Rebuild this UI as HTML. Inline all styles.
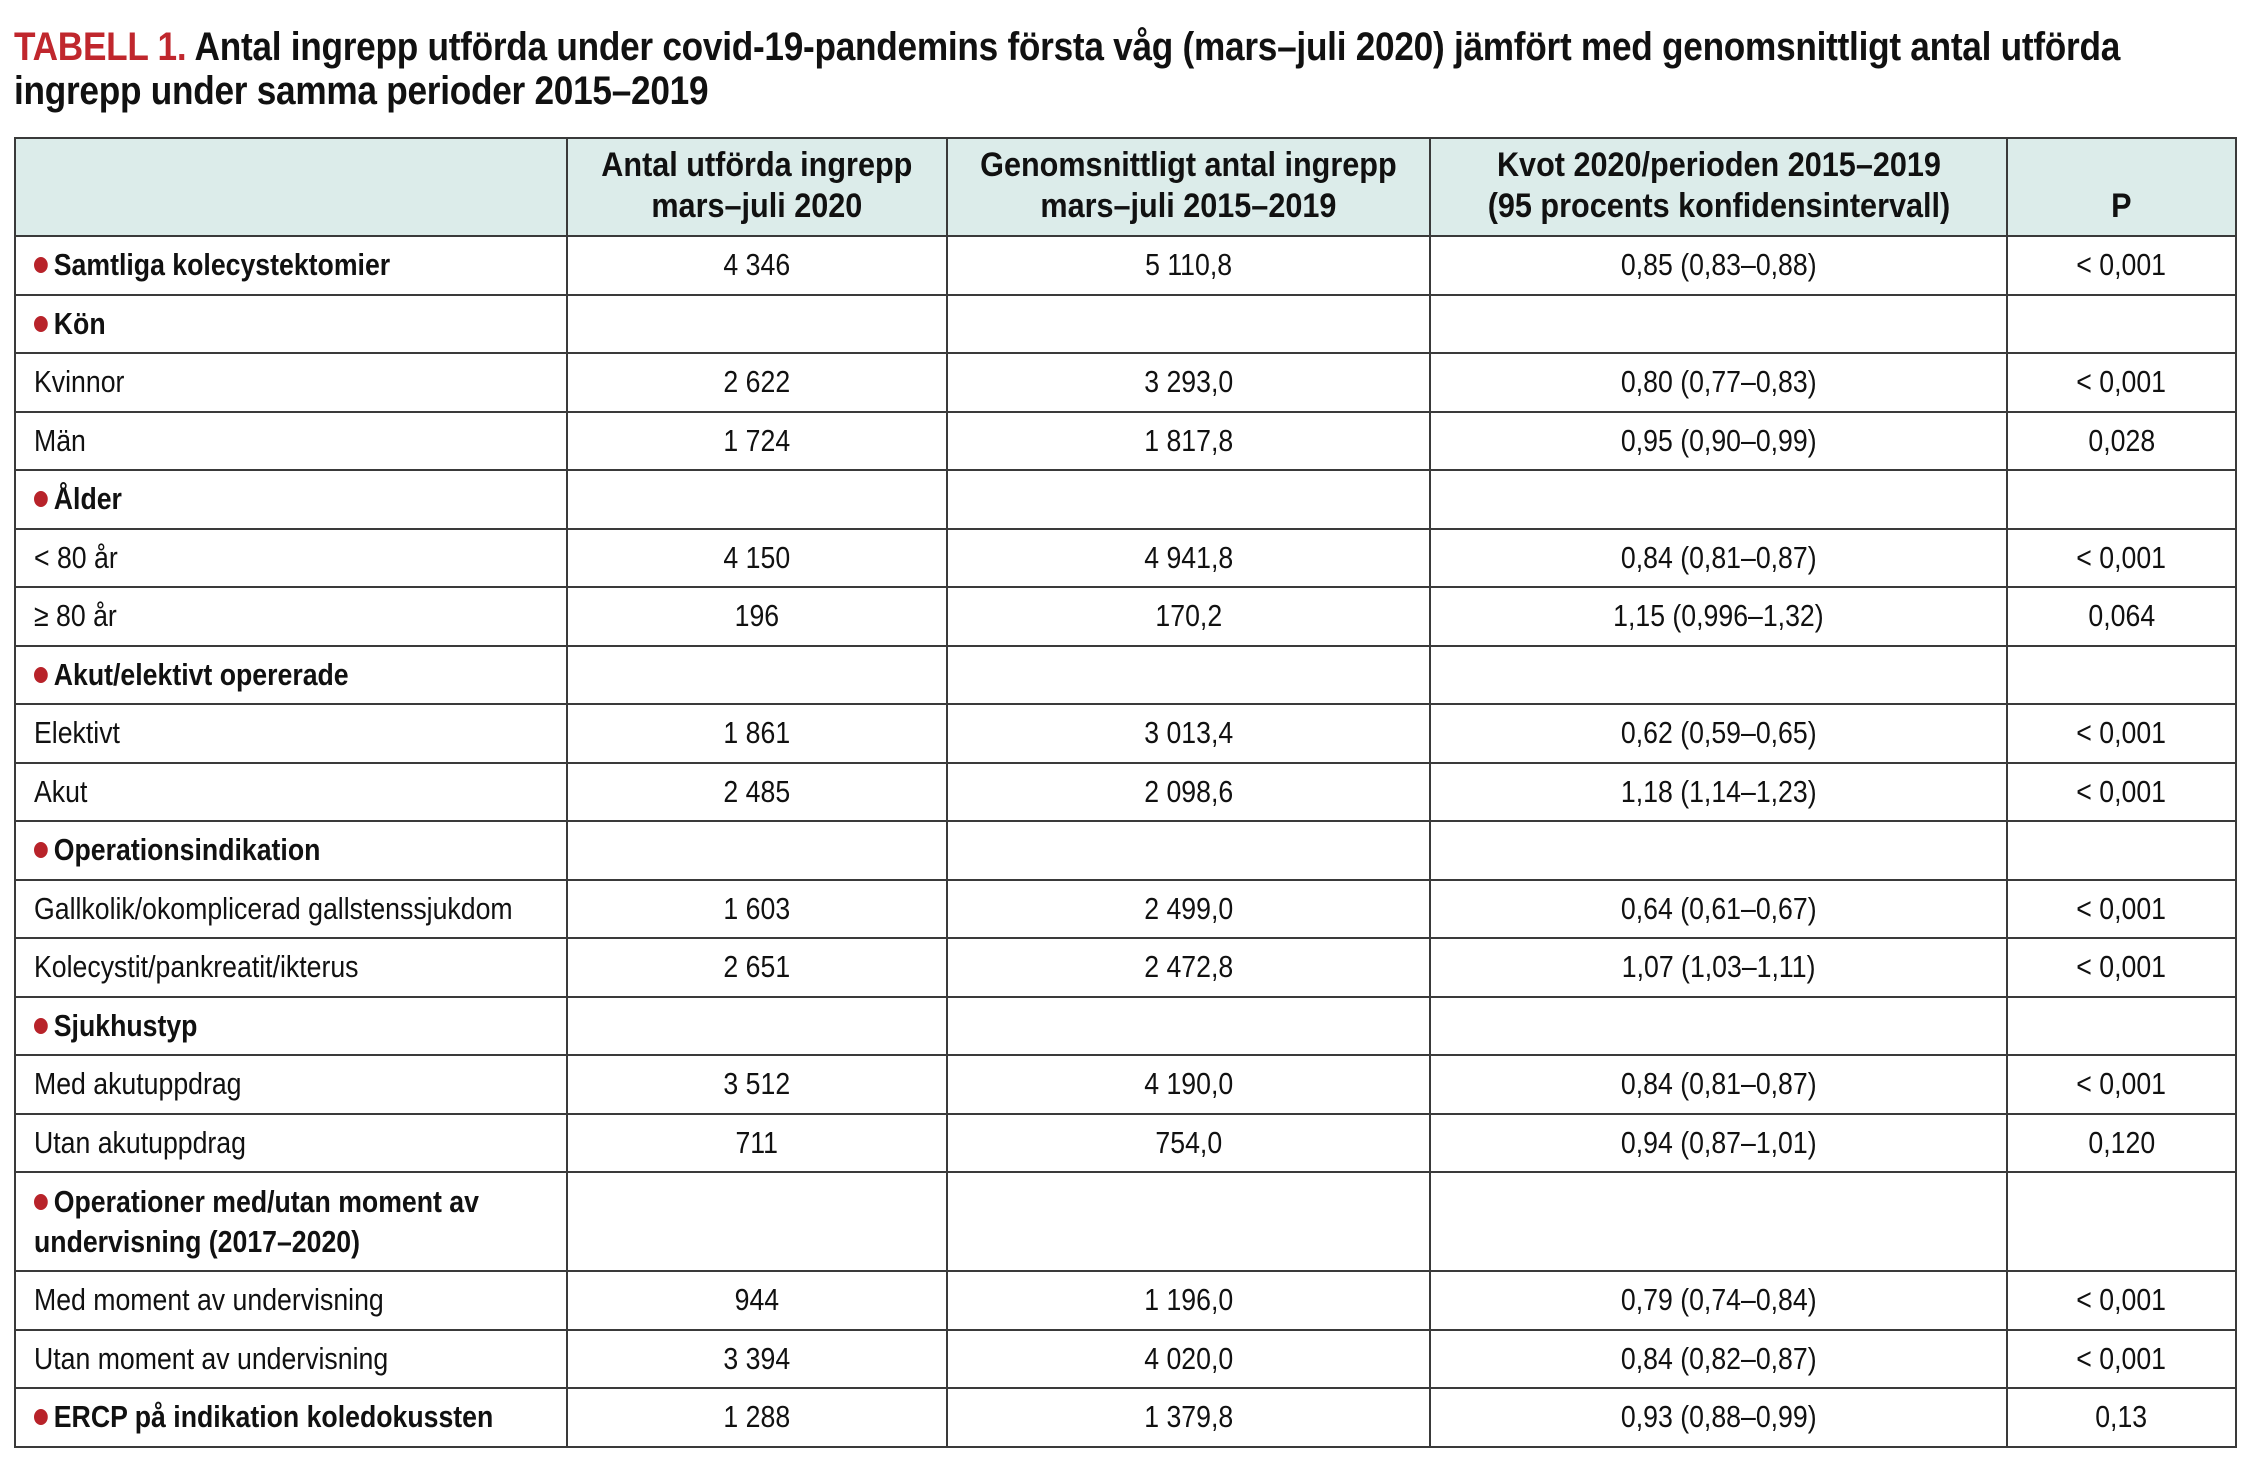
<!DOCTYPE html>
<html><head><meta charset="utf-8">
<style>
html,body{margin:0;padding:0;background:#fff;width:2257px;height:1471px;overflow:hidden}
body{font-family:"Liberation Sans",sans-serif;color:#111;position:relative}
.title{position:absolute;left:14px;font-weight:bold;font-size:40px;white-space:nowrap;transform-origin:left top;transform:scaleX(0.88);letter-spacing:-0.3px}
.red{color:#c0272d}
table{position:absolute;left:14px;top:137px;border-collapse:collapse;table-layout:fixed;width:2221px}
td{border:2px solid #3a3a3a;padding:0;font-size:31px;text-align:center;white-space:nowrap;overflow:visible;height:58.5px;box-sizing:border-box}
tr.h td{background:#dcecea;height:98px;vertical-align:bottom;padding-bottom:8px;line-height:41px;font-weight:bold;font-size:34px}
tr.h .s{transform:scaleX(0.9)}
td.l{text-align:left;padding-left:18px}
.s{display:inline-block;transform:scaleX(0.86);transform-origin:center}
td.l .s{transform-origin:left center}
.b{font-weight:bold}
.dot{display:inline-block;width:16px;height:16px;border-radius:50%;background:#b8232a;margin-right:7px;vertical-align:2px}
tr.d td{height:99px;vertical-align:middle;line-height:40px}
</style></head><body>
<div class="title" style="top:25px"><span class="red">TABELL 1.</span> Antal ingrepp utförda under covid-19-pandemins första våg (mars–juli 2020) jämfört med genomsnittligt antal utförda</div>
<div class="title" style="top:69px">ingrepp under samma perioder 2015–2019</div>
<table>
<colgroup><col style="width:552px"><col style="width:380px"><col style="width:483px"><col style="width:577px"><col style="width:229px"></colgroup>
<tr class="h"><td></td><td><span class="s">Antal utförda ingrepp<br>mars–juli 2020</span></td><td><span class="s">Genomsnittligt antal ingrepp<br>mars–juli 2015–2019</span></td><td><span class="s">Kvot 2020/perioden 2015–2019<br>(95 procents konfidensintervall)</span></td><td><span class="s">P</span></td></tr>
<tr><td class="l"><span class="s b"><span class="dot"></span>Samtliga kolecystektomier</span></td><td><span class="s">4 346</span></td><td><span class="s">5 110,8</span></td><td><span class="s">0,85 (0,83–0,88)</span></td><td><span class="s">&lt; 0,001</span></td></tr>
<tr><td class="l"><span class="s b"><span class="dot"></span>Kön</span></td><td></td><td></td><td></td><td></td></tr>
<tr><td class="l"><span class="s">Kvinnor</span></td><td><span class="s">2 622</span></td><td><span class="s">3 293,0</span></td><td><span class="s">0,80 (0,77–0,83)</span></td><td><span class="s">&lt; 0,001</span></td></tr>
<tr><td class="l"><span class="s">Män</span></td><td><span class="s">1 724</span></td><td><span class="s">1 817,8</span></td><td><span class="s">0,95 (0,90–0,99)</span></td><td><span class="s">0,028</span></td></tr>
<tr><td class="l"><span class="s b"><span class="dot"></span>Ålder</span></td><td></td><td></td><td></td><td></td></tr>
<tr><td class="l"><span class="s">&lt; 80 år</span></td><td><span class="s">4 150</span></td><td><span class="s">4 941,8</span></td><td><span class="s">0,84 (0,81–0,87)</span></td><td><span class="s">&lt; 0,001</span></td></tr>
<tr><td class="l"><span class="s">≥ 80 år</span></td><td><span class="s">196</span></td><td><span class="s">170,2</span></td><td><span class="s">1,15 (0,996–1,32)</span></td><td><span class="s">0,064</span></td></tr>
<tr><td class="l"><span class="s b"><span class="dot"></span>Akut/elektivt opererade</span></td><td></td><td></td><td></td><td></td></tr>
<tr><td class="l"><span class="s">Elektivt</span></td><td><span class="s">1 861</span></td><td><span class="s">3 013,4</span></td><td><span class="s">0,62 (0,59–0,65)</span></td><td><span class="s">&lt; 0,001</span></td></tr>
<tr><td class="l"><span class="s">Akut</span></td><td><span class="s">2 485</span></td><td><span class="s">2 098,6</span></td><td><span class="s">1,18 (1,14–1,23)</span></td><td><span class="s">&lt; 0,001</span></td></tr>
<tr><td class="l"><span class="s b"><span class="dot"></span>Operationsindikation</span></td><td></td><td></td><td></td><td></td></tr>
<tr><td class="l"><span class="s">Gallkolik/okomplicerad gallstenssjukdom</span></td><td><span class="s">1 603</span></td><td><span class="s">2 499,0</span></td><td><span class="s">0,64 (0,61–0,67)</span></td><td><span class="s">&lt; 0,001</span></td></tr>
<tr><td class="l"><span class="s">Kolecystit/pankreatit/ikterus</span></td><td><span class="s">2 651</span></td><td><span class="s">2 472,8</span></td><td><span class="s">1,07 (1,03–1,11)</span></td><td><span class="s">&lt; 0,001</span></td></tr>
<tr><td class="l"><span class="s b"><span class="dot"></span>Sjukhustyp</span></td><td></td><td></td><td></td><td></td></tr>
<tr><td class="l"><span class="s">Med akutuppdrag</span></td><td><span class="s">3 512</span></td><td><span class="s">4 190,0</span></td><td><span class="s">0,84 (0,81–0,87)</span></td><td><span class="s">&lt; 0,001</span></td></tr>
<tr><td class="l"><span class="s">Utan akutuppdrag</span></td><td><span class="s">711</span></td><td><span class="s">754,0</span></td><td><span class="s">0,94 (0,87–1,01)</span></td><td><span class="s">0,120</span></td></tr>
<tr class="d"><td class="l"><span class="s b"><span class="dot"></span>Operationer med/utan moment av<br>undervisning (2017–2020)</span></td><td></td><td></td><td></td><td></td></tr>
<tr><td class="l"><span class="s">Med moment av undervisning</span></td><td><span class="s">944</span></td><td><span class="s">1 196,0</span></td><td><span class="s">0,79 (0,74–0,84)</span></td><td><span class="s">&lt; 0,001</span></td></tr>
<tr><td class="l"><span class="s">Utan moment av undervisning</span></td><td><span class="s">3 394</span></td><td><span class="s">4 020,0</span></td><td><span class="s">0,84 (0,82–0,87)</span></td><td><span class="s">&lt; 0,001</span></td></tr>
<tr><td class="l"><span class="s b"><span class="dot"></span>ERCP på indikation koledokussten</span></td><td><span class="s">1 288</span></td><td><span class="s">1 379,8</span></td><td><span class="s">0,93 (0,88–0,99)</span></td><td><span class="s">0,13</span></td></tr>
</table>
</body></html>
